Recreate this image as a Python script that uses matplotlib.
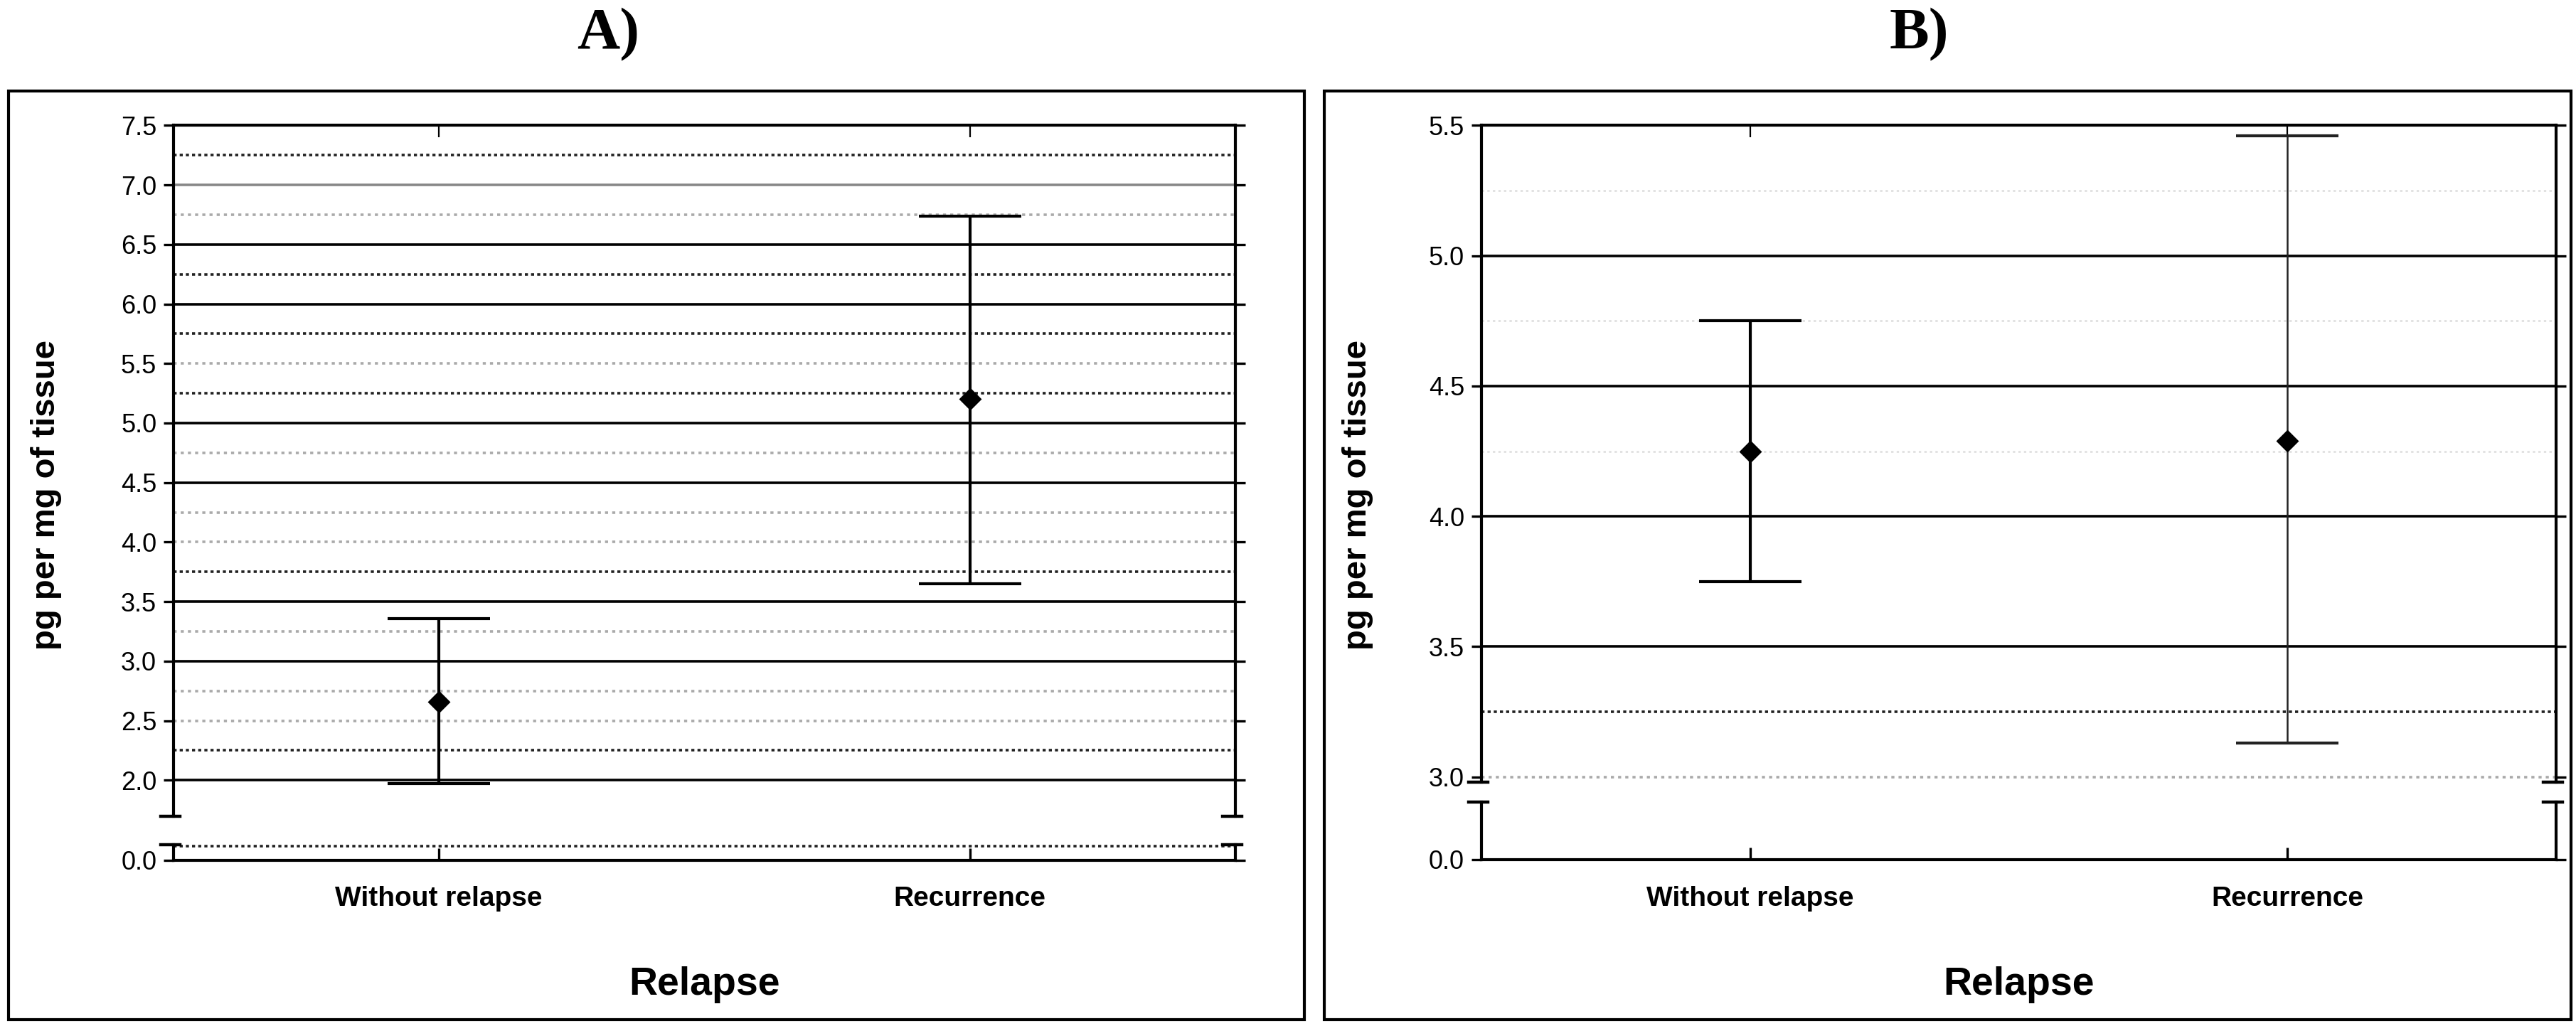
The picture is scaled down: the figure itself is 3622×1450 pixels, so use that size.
import numpy as np
import matplotlib
matplotlib.use("Agg")
import matplotlib.pyplot as plt

plt.rcParams['font.family'] = ['Liberation Sans', 'DejaVu Sans']

categories = ['Without relapse', 'Recurrence']

# panel A: means and interval ends
a_mean = [2.66, 5.20]
a_low = [1.97, 3.65]
a_high = [3.36, 6.74]

# panel B
b_mean = [4.25, 4.29]
b_low = [3.75, 3.13]
b_high = [4.75, 5.46]

a_ticks = [2.0, 2.5, 3.0, 3.5, 4.0, 4.5, 5.0, 5.5, 6.0, 6.5, 7.0, 7.5]
b_ticks = [3.0, 3.5, 4.0, 4.5, 5.0, 5.5]

# gridline styles: (value, kind)
a_grid = [(2.0, 'solid'), (2.25, 'dark'), (2.5, 'light'), (2.75, 'light'),
          (3.0, 'solid'), (3.25, 'light'), (3.5, 'solid'), (3.75, 'dark'),
          (4.0, 'light'), (4.25, 'light'), (4.5, 'solid'), (4.75, 'light'),
          (5.0, 'solid'), (5.25, 'dark'), (5.5, 'light'), (5.75, 'dark'),
          (6.0, 'solid'), (6.25, 'dark'), (6.5, 'solid'), (6.75, 'light'),
          (7.0, 'gray'), (7.25, 'dark')]
b_grid = [(3.0, 'light'), (3.25, 'dark'), (3.5, 'solid'), (4.0, 'solid'),
          (4.25, 'faint'), (4.5, 'solid'), (4.75, 'faint'), (5.0, 'solid'),
          (5.25, 'faint')]

styles = {
    'solid': dict(color='black', lw=1.3, ls='-'),
    'gray': dict(color='#888888', lw=1.3, ls='-'),
    'dark': dict(color='#222222', lw=1.3, ls=(0, (1.2, 1.2))),
    'light': dict(color='#aaaaaa', lw=1.3, ls=(0, (1.2, 1.6))),
    'faint': dict(color='#e0e0e0', lw=1.0, ls=(0, (1.2, 1.6))),
}

fig = plt.figure(figsize=(18.11, 7.25), dpi=200)


def break_marks(ax, y):
    for x in (0, 1):
        ax.plot([x - 0.012, x + 0.006], [y, y], transform=ax.transAxes,
                color='black', lw=1.6, clip_on=False)


def panel(rect_up, rect_low, ylim_up, ylim_low, ticks, grid, mean, low, high,
          lower_grid=None, thin_second=False):
    up = fig.add_axes(rect_up)
    lo = fig.add_axes(rect_low)
    x = np.arange(len(categories))
    for v, kind in grid:
        up.axhline(v, zorder=1, **styles[kind])
    if lower_grid is not None:
        lo.axhline(lower_grid, zorder=1, **styles['dark'])
    for i in x:
        col = 'black'
        lw = 1.5
        if thin_second and i == 1:
            col = '#222222'
            lw = 0.9
        up.errorbar([i], [mean[i]],
                    yerr=[[mean[i] - low[i]], [high[i] - mean[i]]],
                    fmt='D', color='black', ecolor=col, elinewidth=lw,
                    capsize=26, capthick=1.5, markersize=7, zorder=3)
    for ax in (up, lo):
        ax.set_xlim(-0.5, 1.5)
        for s in ax.spines.values():
            s.set_linewidth(1.5)
    up.set_ylim(*ylim_up)
    lo.set_ylim(*ylim_low)
    up.spines['bottom'].set_visible(False)
    lo.spines['top'].set_visible(False)
    up.set_yticks(ticks)
    up.set_yticklabels(['%.1f' % t for t in ticks])
    lo.set_yticks([0.0])
    lo.set_yticklabels(['0.0'])
    up.tick_params(axis='y', which='both', direction='out', length=5, width=1.2,
                   labelsize=13, right=True)
    lo.tick_params(axis='y', direction='out', length=5, width=1.2,
                   labelsize=13, right=True)
    up.set_xticks(x)
    up.tick_params(axis='x', direction='in', length=6, bottom=False, top=True,
                   labelbottom=False)
    lo.set_xticks(x)
    lo.set_xticklabels([])
    lo.tick_params(axis='x', direction='in', length=6, width=1.2)
    break_marks(up, 0)
    break_marks(lo, 1)
    return up, lo


panel([0.0673, 0.208, 0.4122, 0.6704], [0.0673, 0.1656, 0.4122, 0.0152],
      (1.695, 7.5), (0, 0.13), a_ticks, a_grid, a_mean, a_low, a_high,
      lower_grid=0.12)
panel([0.575, 0.2416, 0.4173, 0.6368], [0.575, 0.1664, 0.4173, 0.056],
      (2.981, 5.5), (0, 1.0), b_ticks, b_grid, b_mean, b_low, b_high,
      thin_second=True)

# category labels and axis titles
for left, w in ((0.0673, 0.4122), (0.575, 0.4173)):
    for i, c in enumerate(categories):
        fig.text(left + w * (0.25 + 0.5 * i), 0.128, c, ha='center',
                 va='center', fontsize=14, fontweight='bold')
    fig.text(left + w / 2, 0.045, 'Relapse', ha='center', va='center',
             fontsize=20, fontweight='bold')

fig.text(0.018, 0.52, 'pg per mg of tissue', rotation=90, ha='center',
         va='center', fontsize=17, fontweight='bold')
fig.text(0.527, 0.52, 'pg per mg of tissue', rotation=90, ha='center',
         va='center', fontsize=17, fontweight='bold')

fig.text(0.236, 0.966, 'A)', ha='center', va='center', fontsize=30,
         fontweight='bold', family=['Liberation Serif', 'DejaVu Serif'])
fig.text(0.745, 0.966, 'B)', ha='center', va='center', fontsize=30,
         fontweight='bold', family=['Liberation Serif', 'DejaVu Serif'])

# panel frames
for x0, x1 in ((0.0032, 0.5064), (0.5141, 0.998)):
    fig.add_artist(plt.Rectangle((x0, 0.0112), x1 - x0, 0.912 - 0.0112,
                                 transform=fig.transFigure, fill=False,
                                 edgecolor='black', lw=1.5))

fig.savefig('out.png', dpi=200)
